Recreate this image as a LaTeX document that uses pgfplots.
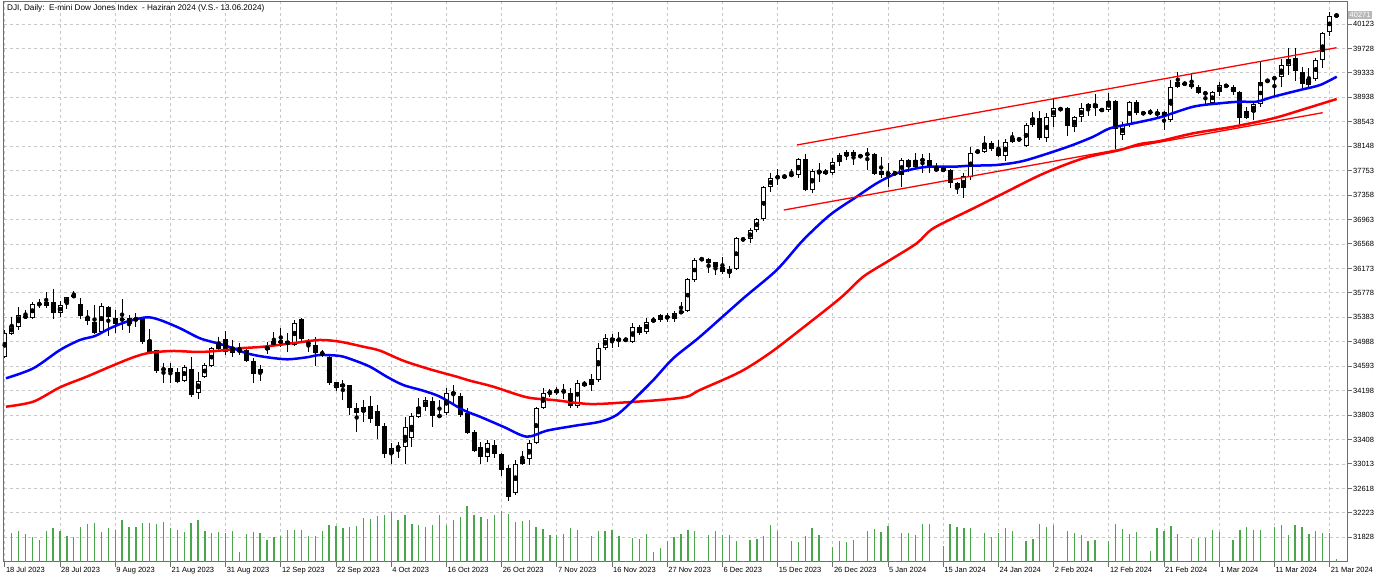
\documentclass[border=0pt]{standalone}
\usepackage{fontspec}
\setmainfont{Liberation Sans}
\usepackage{pgfplots}
\pgfplotsset{compat=1.18}
\usepackage{pgfplotstable}

\definecolor{volgreen}{RGB}{75,165,75}
\definecolor{gridgray}{RGB}{200,200,200}
\definecolor{maBlue}{RGB}{0,0,255}
\definecolor{maRed}{RGB}{255,0,0}
\definecolor{axisgray}{RGB}{110,110,110}

\pgfplotstableread{
i o h l c v
0 34737 35178 34726 35125 0
1 35109 35393 35097 35243 86
2 35232 35555 35178 35416 93
3 35390 35501 35356 35396 84
4 35377 35636 35351 35594 76
5 35590 35674 35529 35598 67
6 35571 35797 35529 35631 93
7 35626 35841 35351 35448 102
8 35448 35652 35384 35582 94
9 35610 35716 35513 35707 77
10 35707 35813 35691 35744 75
11 35598 35691 35351 35404 106
12 35393 35501 35259 35324 113
13 35312 35582 35114 35135 116
14 35151 35610 35125 35566 90
15 35555 35570 35086 35384 102
16 35367 35501 35125 35270 95
17 35356 35674 35178 35340 126
18 35275 35421 35125 35367 106
19 35340 35458 35232 35372 106
20 35351 35393 34952 34989 116
21 35017 35190 34811 34828 117
22 34855 34860 34488 34520 114
23 34540 34650 34327 34546 120
24 34559 34640 34317 34504 102
25 34504 34559 34327 34343 96
26 34359 34613 34343 34585 90
27 34543 34737 34091 34128 117
28 34155 34504 34058 34359 126
29 34414 34640 34398 34613 92
30 34596 34899 34585 34883 87
31 34866 35070 34855 34952 90
32 35028 35167 34774 34828 88
33 34811 35017 34747 34908 93
34 34866 34963 34774 34823 30
35 34855 34908 34666 34682 84
36 34682 34721 34317 34467 90
37 34479 34613 34359 34548 87
38 34855 34989 34790 34908 67
39 34936 35141 34899 35005 74
40 34985 35206 34908 34993 79
41 35000 35125 34828 34936 97
42 34936 35340 34920 35296 95
43 35351 35367 34963 35028 95
44 34960 35028 34828 34966 79
45 34936 35070 34596 34811 78
46 34811 34855 34747 34786 94
47 34737 34758 34289 34317 111
48 34333 34343 34197 34236 108
49 34262 34370 34047 34301 102
50 34285 34290 33805 33913 104
51 33913 33994 33535 33842 108
52 33848 34047 33696 33929 133
53 33950 34117 33680 33745 129
54 33874 33966 33412 33627 138
55 33627 33670 33105 33170 142
56 33170 33357 33013 33266 149
57 33280 33373 33105 33286 125
58 33283 33767 33013 33616 140
59 33428 33832 33292 33793 115
60 33777 34075 33751 33929 111
61 33929 34100 33874 34047 104
62 34036 34100 33616 33788 111
63 33785 34047 33768 33791 141
64 33832 34236 33805 34155 111
65 34171 34289 33994 34139 126
66 34112 34155 33777 33805 136
67 33842 33913 33498 33519 168
68 33535 33562 33212 33228 141
69 33292 33373 33013 33121 134
70 33131 33401 33050 33347 129
71 33320 33401 33105 33174 142
72 33174 33185 32819 32916 153
73 32943 32997 32420 32475 143
74 32539 33077 32512 33013 119
75 33013 33228 32997 33089 124
76 33089 33401 32997 33347 126
77 33347 33939 33336 33913 104
78 33913 34236 33897 34165 99
79 34181 34220 34100 34160 82
80 34165 34262 34128 34209 81
81 34197 34306 34058 34181 84
82 34155 34236 33913 33950 101
83 33950 34370 33913 34327 95
84 34327 34359 34262 34273 3
85 34289 34467 34197 34382 78
86 34370 34973 34343 34883 92
87 34883 35114 34855 35044 93
88 35044 35109 34883 35005 95
89 35014 35151 34899 35020 78
90 35015 35049 35001 35019 2
91 34989 35286 34963 35222 73
92 35222 35259 35097 35135 69
93 35151 35367 35114 35312 84
94 35312 35384 35286 35351 30
95 35340 35437 35312 35421 42
96 35404 35448 35312 35367 64
97 35351 35490 35312 35448 75
98 35448 35636 35437 35485 84
99 35485 36014 35474 35998 95
100 35986 36337 35959 36309 93
101 36318 36353 36298 36324 2
102 36321 36337 36094 36256 81
103 36272 36282 36067 36191 92
104 36191 36363 36083 36120 81
105 36104 36212 36014 36159 81
106 36159 36676 36148 36660 63
107 36641 36660 36621 36647 2
108 36644 36822 36589 36794 67
109 36794 36993 36767 36967 70
110 36967 37505 36945 37484 78
111 37484 37711 37413 37639 111
112 37643 37775 37521 37649 93
113 37653 37672 37646 37659 3
114 37680 37775 37656 37686 63
115 37683 37953 37630 37937 60
116 37937 38022 37429 37441 79
117 37441 37775 37387 37753 102
118 37733 37872 37575 37739 81
119 37753 37775 37683 37699 2
120 37711 37953 37683 37888 44
121 37898 38043 37828 38006 63
122 37990 38087 37925 38050 60
123 38050 38087 37845 37995 66
124 38006 38022 37953 37969 2
125 38015 38115 37764 38021 93
126 38018 38034 37683 37699 99
127 37690 37979 37630 37740 90
128 37708 37872 37494 37714 107
129 37708 37736 37683 37714 2
130 37683 37953 37484 37925 88
131 37925 37937 37736 37807 87
132 37807 38034 37764 37925 81
133 37922 38030 37720 37928 114
134 37925 38034 37711 37791 114
135 37791 37872 37731 37753 2
136 37740 37801 37730 37790 48
137 37764 37775 37468 37549 113
138 37549 37575 37376 37468 104
139 37468 37711 37307 37667 103
140 37656 38131 37602 38043 102
141 38057 38098 38034 38063 2
142 38060 38313 38043 38205 86
143 38205 38237 38076 38098 76
144 38098 38249 37969 37990 88
145 37990 38260 37914 38221 103
146 38221 38383 38205 38276 94
147 38257 38276 38237 38263 2
148 38152 38518 38140 38491 64
149 38491 38706 38464 38599 68
150 38599 38722 38249 38276 114
151 38276 38680 38221 38625 106
152 38625 38906 38454 38761 111
153 38761 38777 38722 38733 2
154 38761 38787 38313 38475 92
155 38464 38636 38383 38615 86
156 38615 38842 38544 38771 82
157 38771 38851 38636 38830 64
158 38830 38992 38636 38761 66
159 38742 38745 38722 38725 2
160 38733 39003 38706 38884 64
161 38884 38895 38098 38422 114
162 38329 38544 38249 38491 99
163 38491 38884 38464 38868 85
164 38868 38895 38653 38690 90
165 38696 38701 38657 38669 2
166 38693 38745 38653 38699 34
167 38706 38745 38599 38653 101
168 38640 38712 38410 38700 93
169 38572 39218 38544 39110 108
170 39110 39352 39094 39181 83
171 39170 39175 39137 39149 2
172 39154 39310 39073 39110 68
173 39110 39137 38987 39003 72
174 39000 39019 38826 39006 73
175 38842 39040 38826 39019 96
176 39019 39181 38964 39137 91
177 39137 39149 39100 39110 2
178 39110 39137 38976 39019 66
179 39019 39040 38502 38599 96
180 38599 38787 38588 38717 106
181 38706 38868 38572 38826 95
182 38826 39514 38787 39191 95
183 39199 39230 39186 39205 2
184 39243 39272 38964 39249 106
185 39272 39558 39110 39461 110
186 39449 39730 39299 39558 81
187 39569 39730 39202 39364 110
188 39343 39433 39084 39149 106
189 39137 39407 39084 39234 83
190 39234 39569 39202 39541 94
191 39541 39999 39407 39973 87
192 39989 40322 39934 40257 87
193 40255 40293 40228 40265 8
}\candles

\pgfplotstableread{
x y
0.17 34398
4.13 34559
8.0 34855
10.9 35017
13.07 35081
15.25 35206
17.67 35312
20.57 35383
22.49 35340
25.39 35206
28.29 35044
31.19 34952
33.07 34883
35.06 34802
37.46 34747
40.86 34705
43.75 34737
45.68 34774
48.58 34758
50.51 34693
52.93 34585
55.35 34424
57.75 34289
60.65 34197
63.07 34100
66.45 33885
68.87 33777
72.25 33615
75.64 33454
78.54 33551
82.39 33627
86.26 33696
88.68 33805
91.09 34047
93.99 34370
96.88 34721
100.75 35070
107.03 35690
111.87 36148
115.72 36633
119.59 37037
123.46 37332
126.36 37549
129.26 37710
132.16 37791
134.09 37817
137.46 37817
139.88 37833
143.75 37845
147.13 37898
150.03 37990
154.38 38152
157.75 38302
160.17 38438
163.55 38518
167.42 38615
172.25 38787
176.12 38842
179.01 38868
181.43 38868
183.84 38948
187.71 39057
190.61 39137
193.03 39272
}\mablue

\pgfplotstableread{
x y
0.17 33939
4.13 34020
8.0 34252
11.87 34424
15.25 34585
18.62 34737
21.04 34811
24.42 34839
28.29 34823
32.16 34855
34.09 34883
37.46 34908
42.30 34973
45.68 35017
48.58 34989
51.96 34908
54.38 34844
57.75 34682
61.62 34543
65.49 34424
67.42 34359
70.80 34262
75.64 34091
79.49 34047
84.81 33982
90.13 34010
94.96 34047
98.83 34100
100.75 34209
106.55 34500
110.90 34807
115.25 35178
121.05 35690
124.42 36040
128.29 36309
132.16 36579
134.57 36822
139.88 37117
145.20 37413
149.55 37656
152.93 37817
156.80 37969
161.62 38087
164.52 38184
167.42 38232
172.25 38357
178.04 38464
183.84 38599
188.68 38761
193.03 38911
}\mared

\begin{document}
\begin{tikzpicture}[font=\fontsize{7.5}{9}\selectfont]
\path[use as bounding box] (0,0) rectangle (1384pt,575pt);
\begin{axis}[
  at={(4pt,13pt)}, anchor=south west,
  width=1343pt, height=560pt, scale only axis,
  xmin=-0.116, xmax=194.52, ymin=31429, ymax=40479,
  axis line style={draw=axisgray, line width=1pt},
  xtick={0,8,16,24,32,40,48,56,64,72,80,88,96,104,112,120,128,136,144,152,160,168,176,184,192},
  xticklabels={18 Jul 2023, 28 Jul 2023, 9 Aug 2023, 21 Aug 2023, 31 Aug 2023, 12 Sep 2023, 22 Sep 2023, 4 Oct 2023, 16 Oct 2023, 26 Oct 2023, 7 Nov 2023, 16 Nov 2023, 27 Nov 2023, 6 Dec 2023, 15 Dec 2023, 26 Dec 2023, 5 Jan 2024, 15 Jan 2024, 24 Jan 2024, 2 Feb 2024, 12 Feb 2024, 21 Feb 2024, 1 Mar 2024, 11 Mar 2024, 21 Mar 2024},
  ytick={31828,32223,32618,33013,33408,33803,34198,34593,34988,35383,35778,36173,36568,36963,37358,37753,38148,38543,38938,39333,39728,40123},
  yticklabels={31828,32223,32618,33013,33408,33803,34198,34593,34988,35383,35778,36173,36568,36963,37358,37753,38148,38543,38938,39333,39728,40123},
  xtick pos=bottom, ytick pos=right, yticklabel pos=right,
  tick align=outside, major tick length=5pt,
  tick style={draw=axisgray, line width=1pt},
  grid=major,
  major grid style={draw=gridgray, dash pattern=on 3pt off 3pt, line width=0.9pt},
  xticklabel style={anchor=north west, inner sep=0pt, xshift=1pt, yshift=0pt, font=\fontsize{7.5}{9}\selectfont},
  yticklabel style={anchor=west, inner sep=0pt, xshift=1pt, font=\fontsize{7.5}{9}\selectfont},
]
% wicks
\addplot[only marks, mark=none, forget plot,
  error bars/.cd, y dir=both, y explicit, error mark=none,
  error bar style={draw=black, solid, line width=1pt}]
  table[x=i, y expr={(\thisrow{h}+\thisrow{l})/2}, y error expr={(\thisrow{h}-\thisrow{l})/2}] {\candles};
% bodies (black)
\addplot[only marks, mark=none, forget plot,
  error bars/.cd, y dir=both, y explicit, error mark=none,
  error bar style={draw=black, solid, line width=5pt}]
  table[x=i, y expr={(\thisrow{o}+\thisrow{c})/2}, y error expr={max(abs(\thisrow{c}-\thisrow{o})/2,8)}] {\candles};
% bodies (white inside for bullish)
\addplot[only marks, mark=none, forget plot,
  error bars/.cd, y dir=both, y explicit, error mark=none,
  error bar style={draw=white, solid, line width=3pt}]
  table[x=i, y expr={(\thisrow{o}+\thisrow{c})/2}, y error expr={max((\thisrow{c}-\thisrow{o})/2-16,0)}] {\candles};
% moving averages
\addplot[maRed, line width=2.5pt, mark=none, smooth, tension=0.5] table[x=x, y=y] {\mared};
\addplot[maBlue, line width=2.5pt, mark=none, smooth, tension=0.5] table[x=x, y=y] {\mablue};
% trend lines
\addplot[maRed, line width=1.3pt, mark=none] coordinates {(114.8,38168) (193.0,39740)};
\addplot[maRed, line width=1.3pt, mark=none] coordinates {(112.9,37117) (191.0,38690)};
\coordinate (lastp) at (axis cs:194.52,40271);
\node[anchor=west, inner sep=0pt, font=\fontsize{8.2}{10}\selectfont] at (rel axis cs:0,1) [xshift=3pt, yshift=-6.5pt] {DJI, Daily:\ \ E-mini Dow Jones Index\ \ - Haziran 2024 (V.S.- 13.06.2024)};
\end{axis}
\begin{axis}[
  at={(4pt,13pt)}, anchor=south west,
  width=1343pt, height=560pt, scale only axis,
  xmin=-0.116, xmax=194.52, ymin=0, ymax=1680,
  hide axis]
\addplot[ycomb, draw=volgreen, line width=1.3pt, mark=none] table[x=i, y=v] {\candles};
\end{axis}
\node[anchor=west, fill=black!28, text=white, inner xsep=1.5pt, inner ysep=1.2pt, xshift=1pt] at (lastp) {40271};
\end{tikzpicture}
\end{document}
